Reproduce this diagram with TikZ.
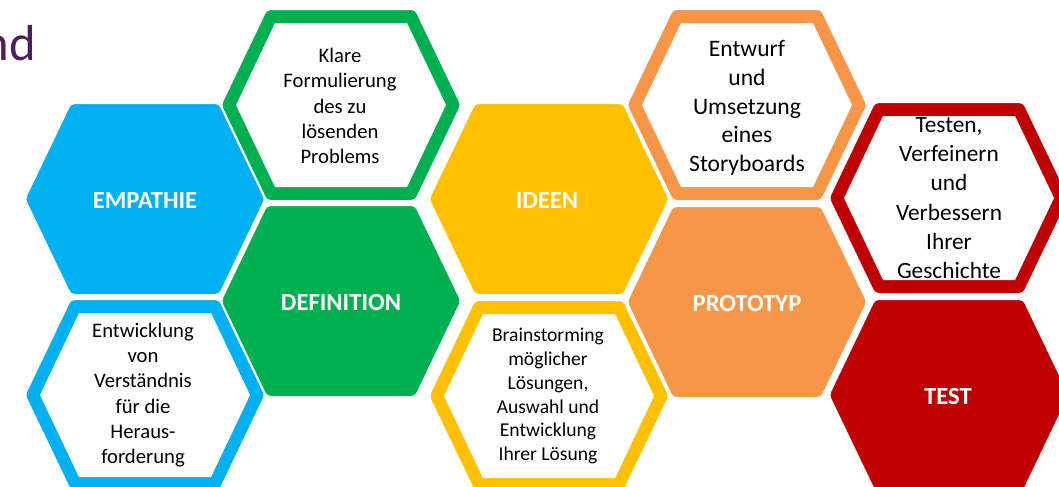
\documentclass[tikz,border=0pt]{standalone}
\usepackage{fontspec}
\setmainfont{Carlito}
\definecolor{empblue}{HTML}{00B0F0}
\definecolor{defgreen}{HTML}{00B050}
\definecolor{ideayellow}{HTML}{FFC000}
\definecolor{protoorange}{HTML}{F79646}
\definecolor{testred}{HTML}{C00000}
\definecolor{titlepurple}{HTML}{4B1F5A}
% filled hexagon: centre (#1,#2), colour #3
\newcommand{\hexfull}[3]{%
  \filldraw[fill=#3,draw=white,line width=1.5pt,rounded corners=3pt]
    (#1-120.5,#2) -- (#1-74.5,#2-96) -- (#1+74.5,#2-96) -- (#1+120.5,#2)
    -- (#1+74.5,#2+96) -- (#1-74.5,#2+96) -- cycle;}
% hexagon ring: centre (#1,#2), colour #3
\newcommand{\hexring}[3]{%
  \hexfull{#1}{#2}{#3}
  \fill[white] (#1-105,#2) -- (#1-66,#2-82) -- (#1+66,#2-82) -- (#1+105,#2)
    -- (#1+66,#2+82) -- (#1-66,#2+82) -- cycle;}
\tikzset{
  phase/.style={text=white,inner sep=0pt,font=\bfseries\fontsize{18.5}{22}\selectfont},
  task/.style={align=center,inner sep=0pt,text=black,font=\fontsize{15.5}{19}\selectfont},
}

\begin{document}
\begin{tikzpicture}[x=0.75pt,y=-0.75pt]
  \useasboundingbox (0,0) rectangle (1059,486);
  \clip (0,0) rectangle (1059,486);
  \node[anchor=base east,inner sep=0pt,text=titlepurple,font=\fontsize{38}{44}\selectfont] (title) at (36,60) {nd};
  % empathy column
  \hexfull{145}{199}{empblue}
  \hexring{145}{395}{empblue}
  \node[phase] (empathie) at (145,200) {EMPATHIE};
  \node[task] (verstaendnis) at (143,395) {Entwicklung\\von\\Verständnis\\für die\\Heraus-\\forderung};
  % definition column
  \hexring{341}{105}{defgreen}
  \hexfull{341}{301}{defgreen}
  \node[phase] (definition) at (341,302) {DEFINITION};
  \node[task] (problem) at (340,106) {Klare\\Formulierung\\des zu\\lösenden\\Problems};
  % ideas column
  \hexfull{549}{199}{ideayellow}
  \hexring{549}{396}{ideayellow}
  \node[phase] (ideen) at (547,200) {IDEEN};
  \node[task,font=\fontsize{14.7}{17.9}\selectfont] (loesung) at (548,396) {Brainstorming\\möglicher\\Lösungen,\\Auswahl und\\Entwicklung\\Ihrer Lösung};
  % prototype column
  \hexring{747}{105}{protoorange}
  \hexfull{747}{302}{protoorange}
  \node[phase] (prototyp) at (747,303) {PROTOTYP};
  \node[task,font=\fontsize{17.7}{21.5}\selectfont] (storyboard) at (747,108) {Entwurf\\und\\Umsetzung\\eines\\Storyboards};
  % test column
  \hexring{949}{198}{testred}
  \hexfull{949}{395}{testred}
  \node[phase] (test) at (948,396) {TEST};
  \node[task,font=\fontsize{17.5}{22}\selectfont] (verbessern) at (949,198) {Testen,\\Verfeinern\\und\\Verbessern\\Ihrer\\Geschichte};
\end{tikzpicture}
\end{document}
